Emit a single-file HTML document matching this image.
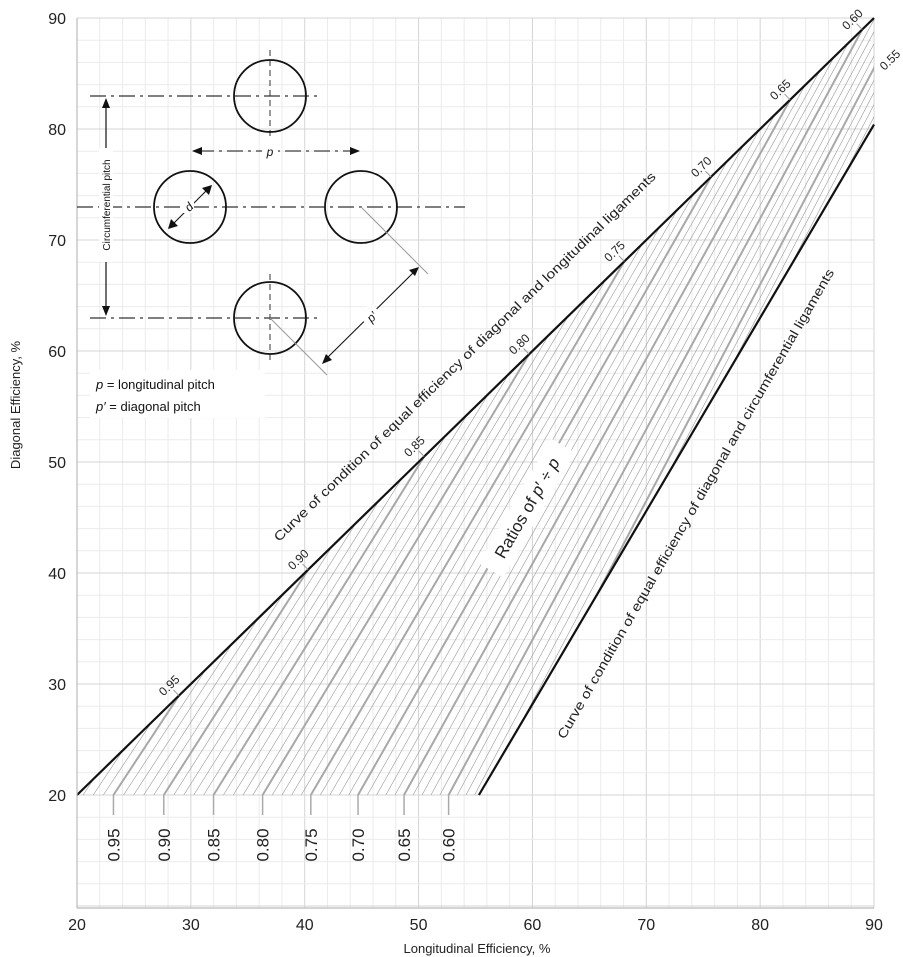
<!DOCTYPE html>
<html><head><meta charset="utf-8">
<style>
html,body{margin:0;padding:0;background:#fff;}
svg{display:block;font-family:"Liberation Sans",sans-serif;}
</style></head>
<body>
<svg id="chart" width="903" height="957" viewBox="0 0 903 957" xmlns="http://www.w3.org/2000/svg">
<defs>
<clipPath id="regionClip"><polygon id="clipPoly" points=""/></clipPath>
</defs>
<g id="grid"></g>
<g id="hatch" clip-path="url(#regionClip)"></g>
<g id="curves"></g>
<g id="labels"></g>
<g id="axes"></g>

<!-- inset diagram -->
<g stroke="#111" fill="none">
  <rect x="90" y="370" width="175" height="48" fill="#fff" stroke="none"/>
  <g stroke="#333" stroke-width="1.2" stroke-dasharray="16,5,3,5">
    <line x1="90" y1="96" x2="318" y2="96"/>
    <line x1="77" y1="207" x2="465" y2="207"/>
    <line x1="90" y1="318" x2="318" y2="318"/>
  </g>
  <g stroke="#333" stroke-width="1" stroke-dasharray="6,4">
    <line x1="270" y1="50" x2="270" y2="138"/>
    <line x1="270" y1="274" x2="270" y2="363"/>
  </g>
  <circle cx="270" cy="96" r="36" stroke-width="1.8"/>
  <circle cx="190" cy="207" r="36" stroke-width="1.8"/>
  <circle cx="361" cy="207" r="36" stroke-width="1.8"/>
  <circle cx="270" cy="318" r="36" stroke-width="1.8"/>
  <line x1="361" y1="207" x2="428" y2="274" stroke="#999" stroke-width="1"/>
  <line x1="270" y1="318" x2="327" y2="375" stroke="#999" stroke-width="1"/>
  <line x1="106" y1="104" x2="106" y2="310" stroke-width="1.2"/>
  <polygon points="106,98 102,108 110,108" fill="#111" stroke="none"/>
  <polygon points="106,316 102,306 110,306" fill="#111" stroke="none"/>
  <rect x="99" y="148" width="14" height="114" fill="#fff" stroke="none"/>
  <text transform="translate(110,205) rotate(-90)" text-anchor="middle" font-size="10" fill="#111" stroke="none">Circumferential pitch</text>
  <line x1="198" y1="151" x2="354" y2="151" stroke-width="1.1" stroke-dasharray="16,5,3,5"/>
  <polygon points="192,151 202,147 202,155" fill="#111" stroke="none"/>
  <polygon points="360,151 350,147 350,155" fill="#111" stroke="none"/>
  <rect x="262" y="143" width="16" height="15" fill="#fff" stroke="none"/>
  <text x="270" y="156" text-anchor="middle" font-size="12" font-style="italic" fill="#111" stroke="none">p</text>
  <line x1="172" y1="225" x2="208" y2="189" stroke-width="1.1"/>
  <polygon points="168,229 171,219 178,226" fill="#111" stroke="none"/>
  <polygon points="212,185 202,188 209,195" fill="#111" stroke="none"/>
  <rect x="182" y="199" width="12" height="14" fill="#fff" stroke="none"/>
  <text transform="translate(189,207) rotate(-45)" text-anchor="middle" font-size="12" font-style="italic" fill="#111" stroke="none" dy="4">d</text>
  <line x1="325" y1="360" x2="416" y2="270" stroke-width="1.1"/>
  <polygon points="322,364 326,354 332,360" fill="#111" stroke="none"/>
  <polygon points="419,267 409,270 415,276" fill="#111" stroke="none"/>
  <rect x="362" y="306" width="18" height="20" fill="#fff" stroke="none" transform="rotate(-45 371 316)"/>
  <text transform="translate(372,317) rotate(-45)" text-anchor="middle" dy="4" font-size="12" font-style="italic" fill="#111" stroke="none">p′</text>
  <text x="96" y="389" font-size="13" fill="#111" stroke="none"><tspan font-style="italic">p</tspan> = longitudinal pitch</text>
  <text x="96" y="411" font-size="13" fill="#111" stroke="none"><tspan font-style="italic">p′</tspan> = diagonal pitch</text>
</g>

<text transform="translate(465,357) rotate(-44)" text-anchor="middle" font-size="13" fill="#222" dy="4" textLength="525" lengthAdjust="spacingAndGlyphs">Curve of condition of equal efficiency of diagonal and longitudinal ligaments</text>
<text transform="translate(696,504) rotate(-60)" text-anchor="middle" font-size="13" fill="#222" dy="4" textLength="540" lengthAdjust="spacingAndGlyphs">Curve of condition of equal efficiency of diagonal and circumferential ligaments</text>
<g transform="translate(527,508) rotate(-60)">
  <rect x="-72" y="-14" width="144" height="28" fill="#fff"/>
  <text text-anchor="middle" font-size="17" fill="#222" dy="6">Ratios of <tspan font-style="italic">p</tspan>′ ÷ <tspan font-style="italic">p</tspan></text>
</g>

<text x="477" y="953" text-anchor="middle" font-size="13" fill="#222">Longitudinal Efficiency, %</text>
<text transform="translate(20,405) rotate(-90)" text-anchor="middle" font-size="13" fill="#222">Diagonal Efficiency, %</text>

<script>
const xTicks = [20,30,40,50,60,70,80,90];
const yTicks = [20,30,40,50,60,70,80,90];
const ratios = [0.50,0.51,0.52,0.53,0.54,0.55,0.56,0.57,0.58,0.59,0.60,0.61,0.62,0.63,0.64,0.65,0.66,0.67,0.68,0.69,0.70,0.71,0.72,0.73,0.74,0.75,0.76,0.77,0.78,0.79,0.80,0.81,0.82,0.83,0.84,0.85,0.86,0.87,0.88,0.89,0.90,0.91,0.92,0.93,0.94,0.95,0.96,0.97,0.98,0.99];
const majorRatios = [0.55,0.60,0.65,0.70,0.75,0.80,0.85,0.90,0.95];
const bottomLabelRatios = [0.95,0.90,0.85,0.80,0.75,0.70,0.65,0.60];
const topLabelRatios = [0.95,0.90,0.85,0.80,0.75,0.70,0.65,0.60];
const bottomCurve = [[55.3,20],[90,80.4]];

const NS="http://www.w3.org/2000/svg";
function X(v){return 77+(v-20)*11.386;}
function Y(v){return 795-(v-20)*11.1;}
function mk(tag,attrs,parent){const e=document.createElementNS(NS,tag);for(const k in attrs)e.setAttribute(k,attrs[k]);parent.appendChild(e);return e;}
function ed(el,r){const J=r*r,s=Math.sqrt(0.75+J),D=0.00375+0.005*J;return (J+0.25-(1-el/100)*s)/D;}
function elAt(edv,r){const J=r*r,s=Math.sqrt(0.75+J),D=0.00375+0.005*J;return 100*(1-(J+0.25-edv*D)/s);}
function isMajor(r){return majorRatios.some(m=>Math.abs(m-r)<1e-6);}

const grid=document.getElementById('grid');
for(let v=20;v<=90;v+=2){
  mk('line',{x1:X(v),x2:X(v),y1:18,y2:908,stroke:v%10===0?'#d4d4d4':'#ebebeb','stroke-width':1},grid);
}
for(let v=10;v<=90;v+=2){
  mk('line',{x1:77,x2:874,y1:Y(v),y2:Y(v),stroke:v%10===0?'#d4d4d4':'#ebebeb','stroke-width':1},grid);
}

document.getElementById('clipPoly').setAttribute('points',
 [[20,20],[90,90],[90,bottomCurve[1][1]],[bottomCurve[0][0],20]].map(p=>X(p[0])+','+Y(p[1])).join(' '));

const hatch=document.getElementById('hatch');
ratios.forEach(r=>{
  const x0=elAt(20,r);
  const l=mk('line',{x1:X(x0),y1:Y(20),x2:X(92),y2:Y(ed(92,r)),stroke:isMajor(r)?'#a8a8a8':'#9a9a9a','stroke-width':isMajor(r)?2:0.6},hatch);
  
  
});

const curves=document.getElementById('curves');
const topL=mk('line',{x1:X(20),y1:Y(20),x2:X(90),y2:Y(90),stroke:'#111','stroke-width':2.2},curves);


const botL=mk('line',{x1:X(bottomCurve[0][0]),y1:Y(bottomCurve[0][1]),x2:X(bottomCurve[1][0]),y2:Y(bottomCurve[1][1]),stroke:'#111','stroke-width':2.2},curves);



const labels=document.getElementById('labels');
const ang=Math.atan2(Y(90)-Y(20),X(90)-X(20))*180/Math.PI;
const nx=Math.sin(ang*Math.PI/180), ny=-Math.cos(ang*Math.PI/180);
topLabelRatios.forEach(r=>{
  const J=r*r,s=Math.sqrt(0.75+J),D=0.00375+0.005*J;
  const e=(J+0.25-s)/(D-s/100);
  const px=X(e),py=Y(e);
  mk('line',{x1:px,y1:py,x2:px+nx*8,y2:py+ny*8,stroke:'#999','stroke-width':1},labels);
  const t=mk('text',{transform:`translate(${px+nx*14},${py+ny*14}) rotate(${ang})`,'text-anchor':'middle','font-size':12,fill:'#222',dy:4},labels);
  t.textContent=r.toFixed(2);
  
  
});
{
  const r=0.55,e=ed(90,r);
  const t=mk('text',{transform:`translate(${X(90)+16},${Y(e)-8}) rotate(${ang})`,'text-anchor':'middle','font-size':12,fill:'#222',dy:4},labels);
  t.textContent='0.55';
  
  
}
bottomLabelRatios.forEach(r=>{
  const px=X(elAt(20,r));
  mk('line',{x1:px,y1:Y(20),x2:px,y2:Y(20)+20,stroke:'#aaa','stroke-width':1.5},labels);
  const t=mk('text',{transform:`translate(${px+6},${Y(20)+50}) rotate(-90)`,'text-anchor':'middle','font-size':17,fill:'#222'},labels);
  t.textContent=r.toFixed(2);
  
  
});

const axes=document.getElementById('axes');
mk('line',{x1:77,y1:18,x2:77,y2:908,stroke:'#bbb','stroke-width':1.2},axes);
mk('line',{x1:77,y1:908,x2:874,y2:908,stroke:'#bbb','stroke-width':1.2},axes);
xTicks.forEach(v=>{
  const t=mk('text',{x:X(v),y:930,'text-anchor':'middle','font-size':16,fill:'#222'},axes);
  t.textContent=v;
  
  
});
yTicks.forEach(v=>{
  const t=mk('text',{x:66,y:Y(v)+6,'text-anchor':'end','font-size':16,fill:'#222'},axes);
  t.textContent=v;
  
  
});
</script>
</svg>
</body></html>
